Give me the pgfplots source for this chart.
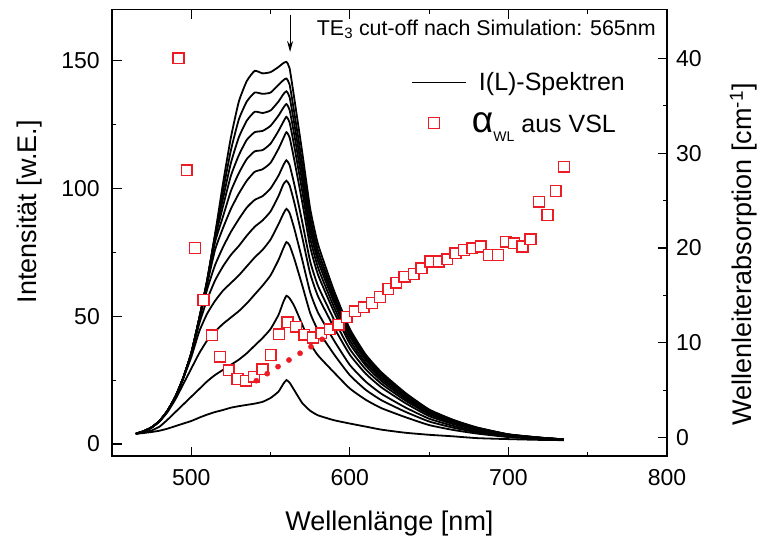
\documentclass[border=0pt]{standalone}
\usepackage{fontspec}
\setmainfont{Liberation Sans}
\usepackage{pgfplots}
\usepackage{pgfplotstable}
\pgfplotsset{compat=1.18}
\usetikzlibrary{arrows.meta}
\definecolor{myred}{RGB}{237,28,36}

\pgfplotstableread{
x   T     a143  a138  a133  a128  a122  a111  a103  a92   a79   a58   a25
465 4.0   4.0   4.0   4.0   4.0   4.0   4.0   4.0   4.0   4.0   4.0   4.0
470 5.0   5.0   5.0   5.0   5.0   5.0   5.0   5.0   5.0   5.0   4.5   4.3
475 6.5   6.5   6.5   6.5   6.5   6.5   6.5   6.5   6.5   6.5   5.3   4.7
480 9.0   9.0   9.0   9.0   9.0   9.0   9.0   9.0   9.0   8.8   6.8   5.2
485 13    13    13    13    13    13    13    13    13    12.5  9.5   6.0
490 18.5  18.5  18.5  18.5  18.5  18.5  18.5  18.5  18.4  17.5  12.5  7.0
495 26    26    26    26    26    26    26    26    25.8  23.5  15.5  8.0
500 35.5  35.5  35.5  35.5  35.5  35.5  35.5  35.3  34    29.5  18.5  9.0
505 49    49    49    49    49    49    48.5  47    44    35.5  21.5  10.3
510 64    64    64    63.8  63.5  62.5  60.5  56.5  51    40.5  24.5  11.5
515 82    82    81.5  80.5  79    76    70    64    56    44    27    12.5
520 102   99    96    93    89    84.5  77    69.5  60    47    29    13.3
525 120   115   110   105   99    92    83    74    63    49.5  31    14.2
530 134   127   120   113   106   98    88    77.5  66    52    33    14.8
535 142   134   126.5 119   111.5 103   92.5  81.5  69.5  55    35.5  15.3
540 146   137.5 130   122   114.5 106.5 95.5  85    73    58.5  38.5  15.8
545 145   137   129.5 122.5 115   107.5 97    87.5  76    62    41.5  16.5
550 145.5 137.5 130.5 124.5 117.5 110   100   91    80    66    45    18
555 147.5 140.5 134   128.5 122.5 115.5 105   97    86    72    50.5  20.5
558 149   142.3 136.8 131.5 126   119.5 109   101.5 90    76.5  55.5  23.5
560 149.5 143   138   133   128   122   111   103   92    79    58    25
562 147   140.6 135.7 130.7 125.8 119.9 109.1 101.2 90.4  77.7  57.0  24
565 135   129.5 125.1 120.8 116.3 111.0 101.5 94.4  84.2  72.4  53.9  21
570 114   109.7 106.1 102.6 98.8  94.5  86.8  80.8  72.0  62.0  46.7  16
575 92    88.8  86.1  83.5  80.5  77.1  71.4  66.6  59.3  51.2  39.3  13
580 78    75.5  73.4  71.4  68.9  66.1  61.7  57.7  51.3  44.4  34.6  11.2
590 60    58.4  57.0  55.5  53.6  51.7  48.7  45.6  40.5  35.1  28.0  9.3
600 45    44.0  42.9  42.0  40.6  39.2  37.1  34.9  30.9  26.9  21.7  8.0
610 35    34.3  33.5  32.8  31.7  30.7  29.2  27.5  24.4  21.2  17.3  6.8
620 28    27.4  26.9  26.3  25.5  24.6  23.5  22.1  19.6  17.1  14.0  5.6
635 20    19.6  19.2  18.9  18.3  17.7  17.0  16.0  14.3  12.6  10.5  4.4
650 13.5  13.3  13.0  12.8  12.4  12.0  11.6  10.9  9.9   8.8   7.4   3.6
665 9.5   9.3   9.2   9.0   8.8   8.5   8.2   7.8   7.1   6.4   5.5   3.0
680 6.5   6.4   6.3   6.2   6.1   5.9   5.7   5.5   5.0   4.6   4.1   2.3
700 3.8   3.75  3.7   3.66  3.6   3.5   3.4   3.3   3.1   2.9   2.7   1.9
720 2.5   2.48  2.46  2.44  2.41  2.38  2.34  2.29  2.2   2.1   2.0   1.6
735 1.8   1.79  1.79  1.78  1.77  1.76  1.74  1.72  1.69  1.66  1.62  1.5
}\spectra

\pgfplotstableread{
x     y
491.9 40.0
497.2 28.2
502.4 20.0
507.7 14.5
513.0 10.8
518.2 8.54
523.6 7.1
529.1 6.19
534.5 6.0
539.5 6.43
544.9 7.22
550.1 8.72
555.3 10.9
560.7 12.18
566.0 11.7
571.3 10.86
576.7 10.56
581.9 11.0
587.3 11.44
592.8 11.9
598.0 12.73
603.3 13.33
608.7 13.75
613.9 14.2
619.1 14.83
624.2 15.68
629.2 16.34
634.4 16.97
640.3 17.26
645.2 17.86
650.9 18.56
656.1 18.56
661.4 18.81
666.7 19.44
671.9 19.79
677.2 19.97
682.5 20.14
687.7 19.26
693.4 19.26
698.3 20.66
703.5 20.5
708.8 20.14
714.0 20.92
719.3 24.88
724.6 23.48
729.8 26.0
735.1 28.57
}\alphawl

\pgfplotstableread{
x     y
541.0 6.01
547.9 6.75
554.7 7.49
561.6 8.19
568.6 8.90
575.5 9.59
582.5 10.37
}\dotsdata

\pgfplotsset{
  common/.style={
    scale only axis, width=555pt, height=446.5pt,
    xmin=450, xmax=800,
    tick align=inside,
    major tick length=9.5pt, minor tick length=4.5pt,
    axis line style={line width=1.2pt},
    every tick/.append style={line width=1.1pt, black},
    /pgf/number format/assume math mode=true,
    tick label style={font=\fontsize{23}{23}\selectfont, inner sep=0pt},
    label style={font=\fontsize{27}{27}\selectfont, inner sep=0pt},
  },
  spec/.style={black, line width=1.8pt, smooth, tension=0.3},
  lineleg/.style={legend image code/.code={\draw[##1] (0pt,0pt) -- (54pt,0pt);}},
  sqleg/.style={legend image code/.code={\draw[##1] plot coordinates {(22pt,0pt)};}},
}

\begin{document}
\begin{tikzpicture}
\path[use as bounding box] (-112pt,-82pt) rectangle (651pt,456pt);
\begin{axis}[
  common,
  ymin=-4.7, ymax=170,
  xtick={500,600,700,800}, ytick={0,50,100,150},
  minor x tick num=1, minor y tick num=1,
  ytick pos=left,
  xticklabel style={anchor=base, yshift=-29pt},
  yticklabel style={anchor=east, xshift=-12pt},
  xlabel={Wellenlänge [nm]},
  xlabel style={at={(axis description cs:0.5,0)}, anchor=base, yshift=-74pt},
  ylabel={Intensität [w.E.]},
  ylabel style={at={(axis description cs:-0.1369,0.547)}, anchor=base},
  clip=false,
]
\addplot[spec] table[x=x, y=T]    {\spectra};
\addplot[spec] table[x=x, y=a143] {\spectra};
\addplot[spec] table[x=x, y=a138] {\spectra};
\addplot[spec] table[x=x, y=a133] {\spectra};
\addplot[spec] table[x=x, y=a128] {\spectra};
\addplot[spec] table[x=x, y=a122] {\spectra};
\addplot[spec] table[x=x, y=a111] {\spectra};
\addplot[spec] table[x=x, y=a103] {\spectra};
\addplot[spec] table[x=x, y=a92]  {\spectra};
\addplot[spec] table[x=x, y=a79]  {\spectra};
\addplot[spec] table[x=x, y=a58]  {\spectra};
\addplot[spec] table[x=x, y=a25]  {\spectra};
\node[anchor=base west, inner sep=0pt, font=\fontsize{21.4}{21.4}\selectfont]
  at (axis cs:579.1,159.8) {TE\textsubscript{3} cut-off nach Simulation: 565nm};
\draw[-{Stealth[length=11pt,width=6pt]}, line width=0.9pt]
  (axis cs:562.3,168) -- (axis cs:562.3,153.4);
\end{axis}
\begin{axis}[
  common,
  ymin=-1.93, ymax=45.14,
  axis y line*=right, axis x line=none,
  ytick={0,10,20,30,40}, minor y tick num=1,
  yticklabel style={anchor=west, xshift=9pt},
  ylabel={Wellenleiterabsorption [cm\textsuperscript{-1}]},
  ylabel style={at={(axis description cs:1.153,0.4513)}, anchor=base},
  legend style={at={(axis description cs:0.5387,0.859)}, anchor=north west,
    draw=none, fill=none, inner sep=0pt, row sep=20pt,
    font=\fontsize{25}{25}\selectfont,
    nodes={inner sep=0pt},
    /tikz/every odd column/.append style={column sep=12pt}},
  legend cell align=left,
]
\addlegendimage{black, line width=1.8pt, lineleg}
\addlegendentry{I(L)-Spektren}
\addplot[myred, line width=1.5pt, only marks, mark=square*, mark size=5.4pt, sqleg,
  mark options={solid, fill=white}]
  table[x=x, y=y] {\alphawl};
\addlegendentry{\hspace{-7pt}{\fontsize{37}{37}\selectfont α}\raisebox{-9pt}{\fontsize{14}{14}\selectfont WL}\hspace{7pt}aus VSL}
\addplot[myred, only marks, mark=*, mark size=2.6pt, forget plot,
  mark options={draw=none, fill=myred}]
  table[x=x, y=y] {\dotsdata};
\end{axis}
\end{tikzpicture}
\end{document}
